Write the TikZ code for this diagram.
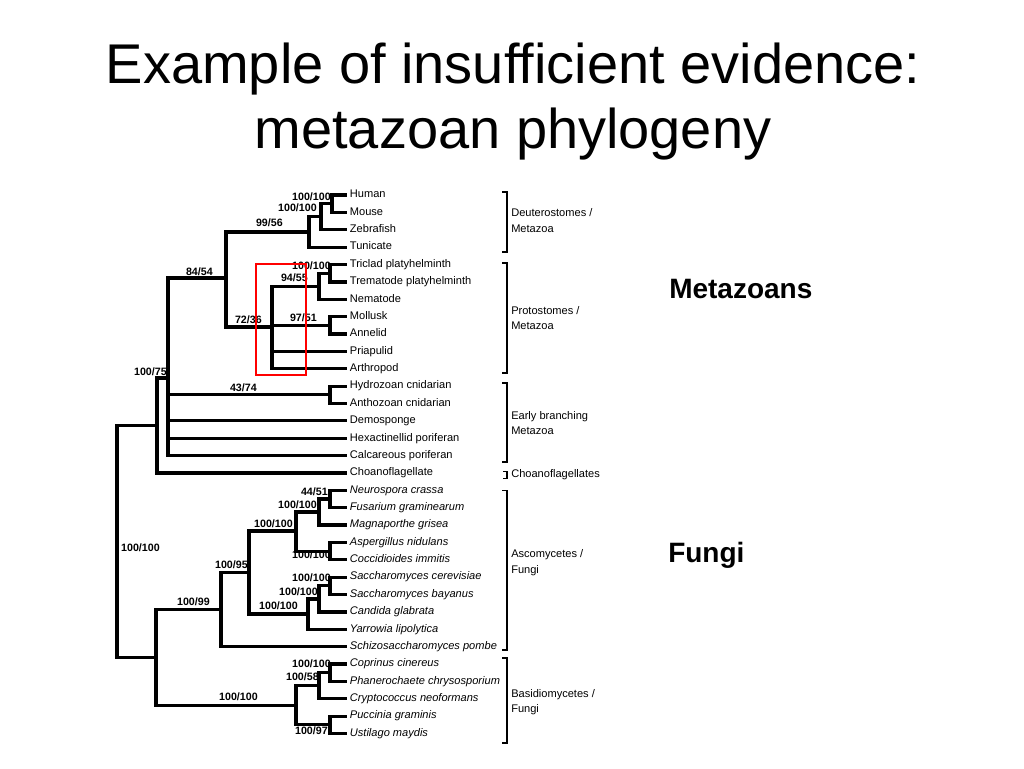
\documentclass[tikz,border=0pt]{standalone}
\usepackage{fontspec}
\setmainfont{Liberation Sans}

\begin{document}
\begin{tikzpicture}[x=0.75pt, y=-0.75pt,
			leaf/.style={anchor=west, inner sep=2pt, font=\fontsize{8.3}{10}\selectfont, text height=6pt, text depth=1.7pt},
			fleaf/.style={leaf, font=\fontsize{8.3}{10}\selectfont\itshape},
			boot/.style={anchor=east, inner sep=0pt, font=\fontsize{8}{9}\selectfont\bfseries},
			branch/.style={line width=2.4pt},
			bracket/.style={line width=1.2pt},
			group/.style={anchor=west, inner sep=0pt, align=left, font=\fontsize{8.3}{11.5}\selectfont},
			title/.style={anchor=base, inner sep=0pt, font=\fontsize{42}{48}\selectfont},
			tag/.style={anchor=base west, inner sep=0pt, font=\fontsize{21}{24}\selectfont\bfseries}
		]
		\useasboundingbox (0,0) rectangle (1024,768);

		\node[title] (t1) at (513,83)  {Example of insufficient evidence:};
		\node[title] (t2) at (513,148) {metazoan phylogeny};
		\node[tag]   (tm) at (669,298) {Metazoans};
		\node[tag]   (tf) at (668,562) {Fungi};

		% leaves
		\node[leaf] (human) at (347,195.0) {Human};
		\node[leaf] (mouse) at (347,212.4) {Mouse};
		\node[leaf] (zebra) at (347,229.7) {Zebrafish};
		\node[leaf] (tunic) at (347,247.1) {Tunicate};
		\node[leaf] (tricl) at (347,264.5) {Triclad platyhelminth};
		\node[leaf] (trema) at (347,281.9) {Trematode platyhelminth};
		\node[leaf] (nemat) at (347,299.2) {Nematode};
		\node[leaf] (mollu) at (347,316.6) {Mollusk};
		\node[leaf] (annel) at (347,334.0) {Annelid};
		\node[leaf] (priap) at (347,351.3) {Priapulid};
		\node[leaf] (arthr) at (347,368.7) {Arthropod};
		\node[leaf] (hydro) at (347,386.1) {Hydrozoan cnidarian};
		\node[leaf] (antho) at (347,403.4) {Anthozoan cnidarian};
		\node[leaf] (demos) at (347,420.8) {Demosponge};
		\node[leaf] (hexac) at (347,438.2) {Hexactinellid poriferan};
		\node[leaf] (calca) at (347,455.6) {Calcareous poriferan};
		\node[leaf] (choan) at (347,472.9) {Choanoflagellate};
		\node[fleaf] (neuro) at (347,490.3) {Neurospora crassa};
		\node[fleaf] (fusar) at (347,507.7) {Fusarium graminearum};
		\node[fleaf] (magna) at (347,525.0) {Magnaporthe grisea};
		\node[fleaf] (asper) at (347,542.4) {Aspergillus nidulans};
		\node[fleaf] (cocci) at (347,559.8) {Coccidioides immitis};
		\node[fleaf] (scere) at (347,577.1) {Saccharomyces cerevisiae};
		\node[fleaf] (sbaya) at (347,594.5) {Saccharomyces bayanus};
		\node[fleaf] (candi) at (347,611.9) {Candida glabrata};
		\node[fleaf] (yarro) at (347,629.3) {Yarrowia lipolytica};
		\node[fleaf] (schiz) at (347,646.6) {Schizosaccharomyces pombe};
		\node[fleaf] (copri) at (347,664.0) {Coprinus cinereus};
		\node[fleaf] (phane) at (347,681.4) {Phanerochaete chrysosporium};
		\node[fleaf] (crypt) at (347,698.7) {Cryptococcus neoformans};
		\node[fleaf] (pucci) at (347,716.1) {Puccinia graminis};
		\node[fleaf] (ustil) at (347,733.5) {Ustilago maydis};

		% inner nodes
		\coordinate (hm)     at (332,203.7);
		\coordinate (hmz)    at (321,216.7);
		\coordinate (deut)   at (309,231.9);
		\coordinate (trtr)   at (330,273.2);
		\coordinate (platy)  at (319,286.2);
		\coordinate (molan)  at (330,325.3);
		\coordinate (prot)   at (272,327);
		\coordinate (bilat)  at (226,278);
		\coordinate (cnid)   at (330,394.8);
		\coordinate (meta)   at (168,378);
		\coordinate (holo)   at (157,425.5);
		\coordinate (neufus) at (330,499);
		\coordinate (sord)   at (319,512);
		\coordinate (aspcoc) at (330,551.1);
		\coordinate (pezi)   at (296,531);
		\coordinate (sacc2)  at (330,585.8);
		\coordinate (sacc3)  at (319,598.9);
		\coordinate (sacch)  at (308,614);
		\coordinate (asc1)   at (249,572.5);
		\coordinate (asco)   at (221,609.6);
		\coordinate (copha)  at (330,672.7);
		\coordinate (agar)   at (319,685.7);
		\coordinate (pucust) at (330,724.8);
		\coordinate (basid)  at (296,705.3);
		\coordinate (fungi)  at (156,657.4);
		\coordinate (root)   at (117,541.5);

		\draw[branch] (hm) |- (human);
		\draw[branch] (hm) |- (mouse);
		\draw[branch] (hmz) |- (hm);
		\draw[branch] (hmz) |- (zebra);
		\draw[branch] (deut) |- (hmz);
		\draw[branch] (deut) |- (tunic);
		\draw[branch] (trtr) |- (tricl);
		\draw[branch] (trtr) |- (trema);
		\draw[branch] (platy) |- (trtr);
		\draw[branch] (platy) |- (nemat);
		\draw[branch] (molan) |- (mollu);
		\draw[branch] (molan) |- (annel);
		\draw[branch] (prot) |- (platy);
		\draw[branch] (prot) |- (molan);
		\draw[branch] (prot) |- (priap);
		\draw[branch] (prot) |- (arthr);
		\draw[branch] (bilat) |- (deut);
		\draw[branch] (bilat) |- (prot);
		\draw[branch] (cnid) |- (hydro);
		\draw[branch] (cnid) |- (antho);
		\draw[branch] (meta) |- (bilat);
		\draw[branch] (meta) |- (cnid);
		\draw[branch] (meta) |- (demos);
		\draw[branch] (meta) |- (hexac);
		\draw[branch] (meta) |- (calca);
		\draw[branch] (holo) |- (meta);
		\draw[branch] (holo) |- (choan);
		\draw[branch] (neufus) |- (neuro);
		\draw[branch] (neufus) |- (fusar);
		\draw[branch] (sord) |- (neufus);
		\draw[branch] (sord) |- (magna);
		\draw[branch] (aspcoc) |- (asper);
		\draw[branch] (aspcoc) |- (cocci);
		\draw[branch] (pezi) |- (sord);
		\draw[branch] (pezi) |- (aspcoc);
		\draw[branch] (sacc2) |- (scere);
		\draw[branch] (sacc2) |- (sbaya);
		\draw[branch] (sacc3) |- (sacc2);
		\draw[branch] (sacc3) |- (candi);
		\draw[branch] (sacch) |- (sacc3);
		\draw[branch] (sacch) |- (yarro);
		\draw[branch] (asc1) |- (pezi);
		\draw[branch] (asc1) |- (sacch);
		\draw[branch] (asco) |- (asc1);
		\draw[branch] (asco) |- (schiz);
		\draw[branch] (copha) |- (copri);
		\draw[branch] (copha) |- (phane);
		\draw[branch] (agar) |- (copha);
		\draw[branch] (agar) |- (crypt);
		\draw[branch] (pucust) |- (pucci);
		\draw[branch] (pucust) |- (ustil);
		\draw[branch] (basid) |- (agar);
		\draw[branch] (basid) |- (pucust);
		\draw[branch] (fungi) |- (asco);
		\draw[branch] (fungi) |- (basid);
		\draw[branch] (root) |- (holo);
		\draw[branch] (root) |- (fungi);

		% support values
		\node[boot] (b-hm)     at (331,197) {100/100};
		\node[boot] (b-hmz)    at (317,208) {100/100};
		\node[boot] (b-deut)   at (283,223) {99/56};
		\node[boot] (b-bilat)  at (213,272) {84/54};
		\node[boot] (b-trtr)   at (331,266) {100/100};
		\node[boot] (b-platy)  at (308,278) {94/55};
		\node[boot] (b-molan)  at (317,318) {97/51};
		\node[boot] (b-prot)   at (262,320) {72/36};
		\node[boot] (b-meta)   at (167,372) {100/75};
		\node[boot] (b-cnid)   at (257,388) {43/74};
		\node[boot] (b-neufus) at (328,492) {44/51};
		\node[boot] (b-sord)   at (317,505) {100/100};
		\node[boot] (b-pezi)   at (293,524) {100/100};
		\node[boot] (b-aspcoc) at (331,555) {100/100};
		\node[boot] (b-root)   at (160,548) {100/100};
		\node[boot] (b-asc1)   at (248,565) {100/95};
		\node[boot] (b-sacc2)  at (331,578) {100/100};
		\node[boot] (b-sacc3)  at (318,592) {100/100};
		\node[boot] (b-sacch)  at (298,606) {100/100};
		\node[boot] (b-asco)   at (210,602) {100/99};
		\node[boot] (b-copha)  at (331,664) {100/100};
		\node[boot] (b-agar)   at (319,677) {100/58};
		\node[boot] (b-basid)  at (258,697) {100/100};
		\node[boot] (b-pucust) at (328,731) {100/97};

		\draw[red, line width=0.8pt] (256,264) rectangle (306,375);

		% groups
		\draw[bracket] (502,192) -| (507,252) -- (502,252);
		\draw[bracket] (502,263) -| (507,373) -- (502,373);
		\draw[bracket] (502,383) -| (507,462) -- (502,462);
		\draw[bracket] (503,471.5) -| (507,478.5) -- (503,478.5);
		\draw[bracket] (502,490.5) -| (507,650) -- (502,650);
		\draw[bracket] (502,658) -| (507,743) -- (502,743);
		\node[group] (g-deut)  at (511,220.5) {Deuterostomes /\\Metazoa};
		\node[group] (g-prot)  at (511,318) {Protostomes /\\Metazoa};
		\node[group] (g-early) at (511,423) {Early branching\\Metazoa};
		\node[group] (g-choan) at (511,475) {Choanoflagellates};
		\node[group] (g-asco)  at (511,562.5) {Ascomycetes /\\Fungi};
		\node[group] (g-basid) at (511,702) {Basidiomycetes /\\Fungi};
\end{tikzpicture}
\end{document}
